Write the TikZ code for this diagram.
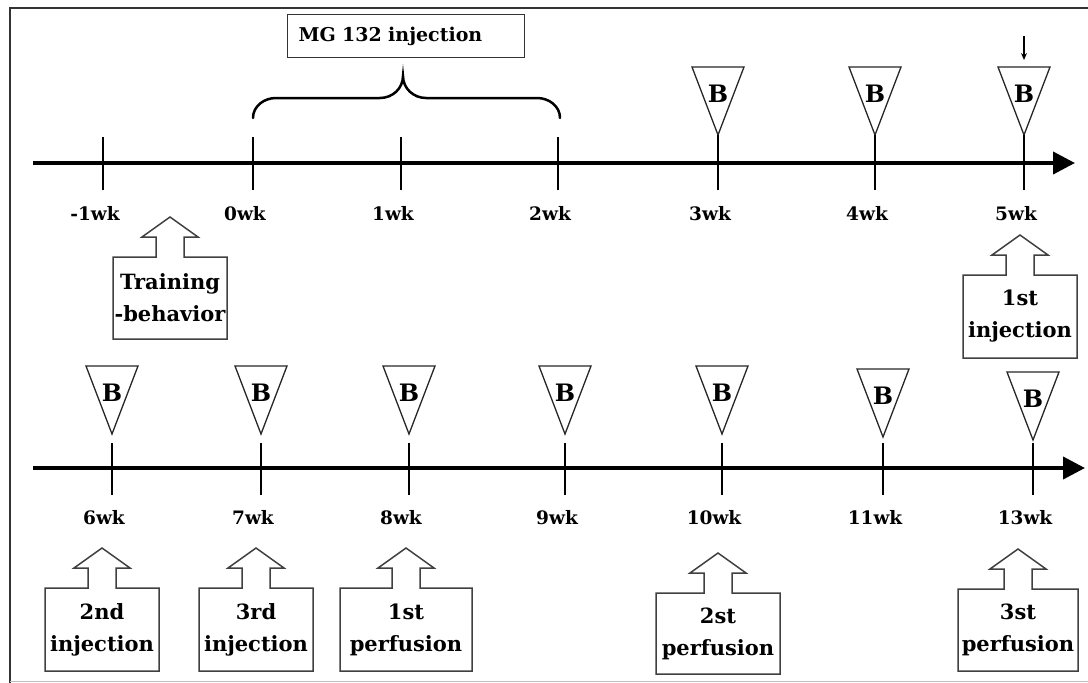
\documentclass[tikz,border=0pt]{standalone}
\usepackage{fontspec}
\setmainfont{DejaVu Serif}
\usetikzlibrary{arrows.meta}
\tikzset{
  frameline/.style={line width=1.5pt, draw=black!80},
  axisline/.style={line width=4pt, -{Triangle[length=22pt,width=22pt]}},
  tickline/.style={line width=1.3pt},
  week/.style={font=\fontsize{18.5}{20}\selectfont\bfseries, inner sep=0pt, anchor=base},
  btext/.style={font=\fontsize{24}{26}\selectfont\bfseries, inner sep=0pt},
  triline/.style={line width=1.3pt, draw=black!85},
  calloutline/.style={line width=1.5pt, draw=black!75, line join=miter},
  boxtext/.style={font=\fontsize{21}{32}\selectfont\bfseries, align=center, inner sep=0pt},
  mgbox/.style={draw=black!80, line width=1.3pt, anchor=north west, minimum width=237pt,
    minimum height=43pt, text width=215pt, align=left, inner xsep=11pt, inner ysep=0pt,
    font=\fontsize{19}{22}\selectfont\bfseries},
  bracket/.style={line width=2.5pt, line cap=round},
  smallarrow/.style={line width=1.2pt, -{Stealth[length=7pt,width=6pt]}}
}
% callout: #1 name, #2 centre x, #3 half width of box, #4 box top, #5 box bottom, #6 text
\newcommand\mycallout[6]{%
  \draw[calloutline] (#2-#3,#5) -- (#2-#3,#4) -- (#2-14,#4) -- (#2-14,#4-20) -- (#2-28,#4-20)
    -- (#2,#4-40) -- (#2+28,#4-20) -- (#2+14,#4-20) -- (#2+14,#4) -- (#2+#3,#4)
    -- (#2+#3,#5) -- cycle;
  \node[boxtext] (#1) at (#2,{(#4+#5)/2}) {#6};}
% B triangle: #1 name, #2 centre x, #3 top y
\newcommand\mybtri[3]{%
  \draw[triline] (#2-26,#3) -- (#2+26,#3) -- (#2,#3+68) -- cycle;
  \node[btext] (#1) at (#2,#3+27) {B};
  \coordinate (#1apex) at (#2,#3+68);
  \coordinate (#1top) at (#2,#3);}
\begin{document}
\begin{tikzpicture}[x=1pt,y=-1pt]
\useasboundingbox (0,0) rectangle (1088,683);
% frame
\draw[frameline] (1090,8) -- (10,8) -- (10,683);
\draw[line width=1pt, draw=black!25] (10,681) -- (1090,681);

% ---------- top timeline ----------
\coordinate (ax1s) at (33,163);
\coordinate (ax1e) at (1075,163);
\draw[axisline] (ax1s) -- (ax1e);

\foreach \x/\n/\lab in {103/m1/-1wk, 253/w0/0wk, 401/w1/1wk, 558/w2/2wk}{
  \coordinate (t\n top) at (\x,137);
  \coordinate (t\n bot) at (\x,190);
  \draw[tickline] (t\n top) -- (t\n bot);
  \node[week] (l\n) at (\x-8,220) {\lab};
}
\mybtri{bw3}{718}{67}
\mybtri{bw4}{875}{67}
\mybtri{bw5}{1024}{67}
\foreach \x/\n/\lab in {718/w3/3wk, 875/w4/4wk, 1024/w5/5wk}{
  \coordinate (t\n bot) at (\x,190);
  \draw[tickline] (b\n apex) -- (t\n bot);
  \node[week] (l\n) at (\x-8,220) {\lab};
}
% small arrow above 5wk
\coordinate (sa) at (1024,36);
\coordinate (sb) at (1024,60);
\draw[smallarrow] (sa) -- (sb);

% MG 132 box and bracket
\node[mgbox] (mg) at (287,14) {MG 132 injection};
\draw[bracket] (253,118) to[out=90,in=180] (276,98) -- (380,98) to[out=0,in=-90] (403,76)
  to[out=-90,in=180] (426,98) -- (537,98) to[out=0,in=90] (560,118);

% Training behavior and 1st injection callouts
\mycallout{train}{170}{57}{257}{339}{Training\\-behavior}
\mycallout{inj1}{1020}{57}{275}{358}{1st\\injection}

% ---------- bottom timeline ----------
\coordinate (ax2s) at (33,468);
\coordinate (ax2e) at (1085,468);
\draw[axisline] (ax2s) -- (ax2e);

\mybtri{bw6}{112}{366}
\mybtri{bw7}{261}{366}
\mybtri{bw8}{409}{366}
\mybtri{bw9}{565}{366}
\mybtri{bw10}{722}{366}
\mybtri{bw11}{883}{369}
\mybtri{bw13}{1033}{372}
\foreach \x/\n/\lab in {112/w6/6wk, 261/w7/7wk, 409/w8/8wk, 565/w9/9wk, 722/w10/10wk, 883/w11/11wk, 1033/w13/13wk}{
  \coordinate (t\n top) at (\x,443);
  \coordinate (t\n bot) at (\x,495);
  \draw[tickline] (t\n top) -- (t\n bot);
  \node[week] (l\n) at (\x-8,524) {\lab};
}

\mycallout{inj2}{102}{57}{588}{671}{2nd\\injection}
\mycallout{inj3}{256}{57}{588}{671}{3rd\\injection}
\mycallout{perf1}{406}{66}{588}{671}{1st\\perfusion}
\mycallout{perf2}{718}{62}{593}{674}{2st\\perfusion}
\mycallout{perf3}{1018}{60}{589}{671}{3st\\perfusion}
\end{tikzpicture}
\end{document}
